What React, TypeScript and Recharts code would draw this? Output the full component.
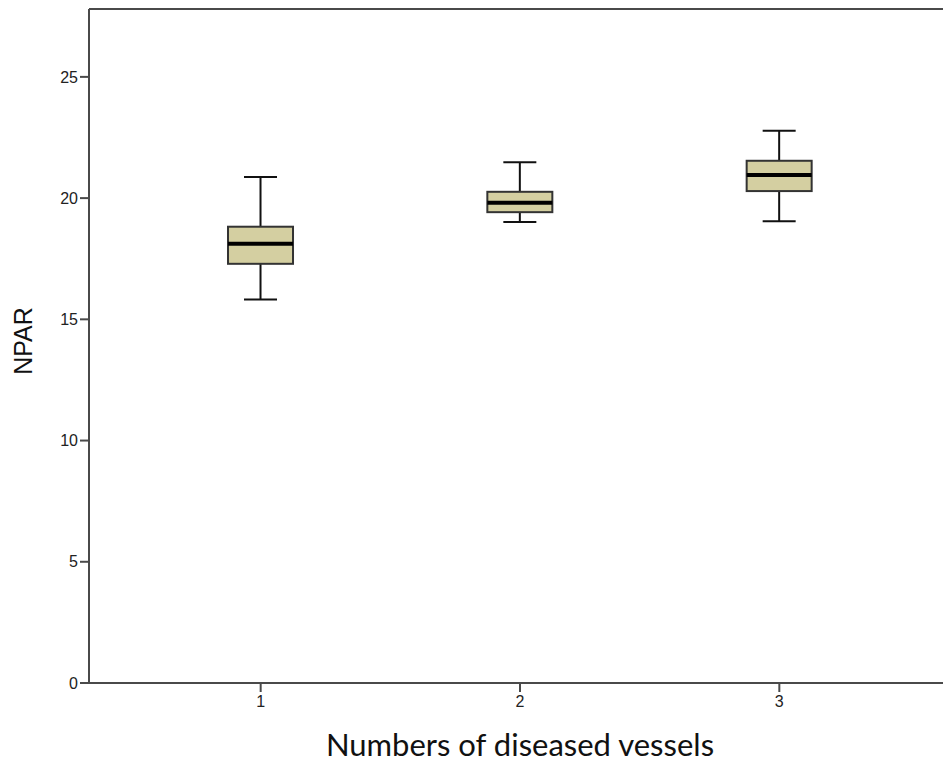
import React from "react";
import { Bar, ComposedChart, ReferenceLine, XAxis, YAxis } from "recharts";

// vessels count groups and their box stats for NPAR
const groups = [1, 2, 3];
const mins = [15.82, 19.01, 19.05];
const q1s = [17.29, 19.42, 20.29];
const medians = [18.12, 19.81, 20.95];
const q3s = [18.82, 20.26, 21.54];
const maxs = [20.87, 21.48, 22.78];
const yTicks = [0, 5, 10, 15, 20, 25];

const data = groups.map((g, i) => ({
  group: g,
  min: mins[i],
  q1: q1s[i],
  median: medians[i],
  q3: q3s[i],
  max: maxs[i],
}));

const FILL = "#d4cfa1";
const AXIS = "#4a4a4a";
const X_DOMAIN: [number, number] = [0.338, 3.662];
const Y_MAX = 27.8;

const Whisker = (props: any) => {
  const { x, y, width, height } = props;
  const cx = x + width / 2;
  return (
    <g stroke="#111" strokeWidth={2}>
      <line x1={cx} x2={cx} y1={y} y2={y + height} />
      <line x1={x} x2={x + width} y1={y} y2={y} />
      <line x1={x} x2={x + width} y1={y + height} y2={y + height} />
    </g>
  );
};

const Box = (props: any) => {
  const { x, y, width, height } = props;
  return <rect x={x} y={y} width={width} height={height} fill={FILL} stroke="#333" strokeWidth={2} />;
};

const Median = (props: any) => {
  const { x, y, width } = props;
  return <line x1={x} x2={x + width} y1={y} y2={y} stroke="#000" strokeWidth={4} />;
};

const YLabel = ({ viewBox }: any) => {
  const lx = viewBox.x + 23;
  const ly = viewBox.y + viewBox.height / 2 - 5;
  return (
    <text
      x={lx}
      y={ly}
      transform={`rotate(-90, ${lx}, ${ly})`}
      textAnchor="middle"
      dominantBaseline="central"
      fontFamily="Liberation Sans, Arial, sans-serif"
      fontSize={25}
      fill="#111"
    >
      NPAR
    </text>
  );
};

const tickStyle = { fontFamily: "Liberation Sans, Arial, sans-serif", fontSize: 16, fill: "#222" };

export default function App() {
  return (
    <div style={{ position: "fixed", left: 0, top: 0, width: 943, height: 762, overflow: "hidden", background: "#fff" }}>
      <ComposedChart width={960} height={762} data={data} margin={{ top: 9, right: 9, bottom: 0, left: 0 }}>
        <XAxis
          xAxisId="main"
          dataKey="group"
          type="number"
          domain={X_DOMAIN}
          ticks={groups}
          allowDataOverflow
          stroke={AXIS}
          strokeWidth={2}
          tickSize={9}
          tickMargin={4}
          tick={tickStyle}
          tickLine={{ stroke: AXIS, strokeWidth: 2 }}
          height={79}
          label={{
            value: "Numbers of diseased vessels",
            position: "insideBottom",
            offset: 6,
            style: { fontFamily: "Lato, sans-serif", fontSize: 31, fill: "#111" },
          }}
        />
        <XAxis xAxisId="w" dataKey="group" type="number" domain={X_DOMAIN} allowDataOverflow hide height={0} />
        <XAxis xAxisId="b" dataKey="group" type="number" domain={X_DOMAIN} allowDataOverflow hide height={0} />
        <XAxis xAxisId="m" dataKey="group" type="number" domain={X_DOMAIN} allowDataOverflow hide height={0} />
        <YAxis
          type="number"
          domain={[0, Y_MAX]}
          ticks={yTicks}
          allowDataOverflow
          width={89}
          stroke={AXIS}
          strokeWidth={2}
          tickSize={9}
          tickMargin={2}
          tick={tickStyle}
          tickLine={{ stroke: AXIS, strokeWidth: 2 }}
          label={<YLabel />}
        />
        <ReferenceLine xAxisId="main" y={Y_MAX} stroke={AXIS} strokeWidth={2} ifOverflow="visible" />
        <Bar
          xAxisId="w"
          dataKey={(d: any) => [d.min, d.max]}
          barSize={33}
          shape={<Whisker />}
          isAnimationActive={false}
        />
        <Bar
          xAxisId="b"
          dataKey={(d: any) => [d.q1, d.q3]}
          barSize={65}
          shape={<Box />}
          isAnimationActive={false}
        />
        <Bar
          xAxisId="m"
          dataKey={(d: any) => [d.median, d.median]}
          barSize={65}
          shape={<Median />}
          isAnimationActive={false}
        />
      </ComposedChart>
    </div>
  );
}
